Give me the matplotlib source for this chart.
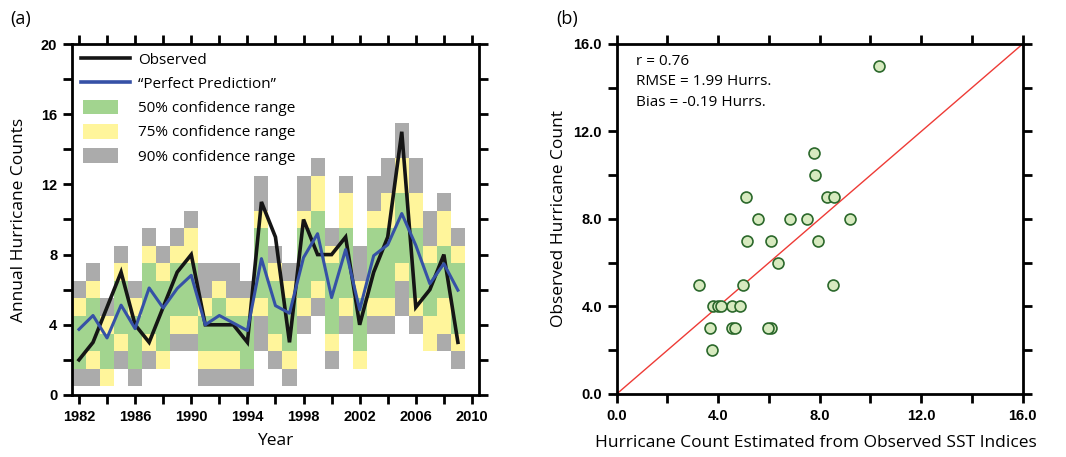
import numpy as np
import matplotlib.pyplot as plt
from matplotlib.lines import Line2D
from matplotlib.patches import Patch, Rectangle
from matplotlib.legend_handler import HandlerPatch

# Datos: conteos anuales de huracanes
years = np.arange(1982, 2010)
observed = np.array([2, 3, 5, 7, 4, 3, 5, 7, 8, 4, 4, 4, 3, 11,
                     9, 3, 10, 8, 8, 9, 4, 7, 9, 15, 5, 6, 8, 3])
perfect = np.array([3.74, 4.53, 3.25, 5.12, 3.78, 6.10, 4.96, 6.07, 6.82, 4.00,
                    4.53, 4.10, 3.67, 7.77, 5.09, 4.66, 7.83, 9.19, 5.55, 8.29,
                    4.85, 7.94, 8.56, 10.34, 8.53, 6.34, 7.48, 5.97])

# Rangos de confianza (conteos enteros, limite inferior / superior)
lo90 = np.array([1, 1, 1, 2, 1, 2, 2, 3, 3, 1, 1, 1, 1, 3,
                 2, 1, 4, 5, 2, 4, 2, 4, 4, 5, 4, 3, 3, 2])
hi90 = np.array([6, 7, 5, 8, 6, 9, 8, 9, 10, 7, 7, 7, 6, 12,
                 8, 7, 12, 13, 9, 12, 8, 12, 13, 15, 13, 10, 11, 9])
lo75 = np.array([2, 2, 1, 3, 2, 3, 2, 4, 4, 2, 2, 2, 2, 5,
                 3, 2, 5, 6, 3, 5, 2, 5, 5, 7, 5, 3, 4, 3])
hi75 = np.array([5, 6, 4, 7, 5, 8, 7, 8, 9, 5, 6, 5, 5, 10,
                 7, 6, 10, 12, 8, 11, 6, 10, 11, 13, 11, 8, 10, 8])
lo50 = np.array([2, 3, 2, 4, 2, 4, 3, 5, 5, 3, 3, 3, 2, 6,
                 4, 3, 6, 7, 4, 6, 3, 6, 6, 8, 6, 5, 6, 4])
hi50 = np.array([4, 5, 3, 6, 4, 7, 6, 7, 7, 4, 5, 4, 4, 9,
                 6, 5, 9, 10, 7, 9, 5, 9, 9, 11, 9, 7, 8, 7])

stats_txt = "r = 0.76\nRMSE = 1.99 Hurrs.\nBias = -0.19 Hurrs."

c_grey = '#ababab'
c_yellow = '#fff59b'
c_green = '#a2d48f'
c_blue = '#3651a6'
c_black = '#151515'

plt.rcParams['font.family'] = ['Open Sans', 'DejaVu Sans']
tick_font = dict(family='Liberation Sans', weight='bold', size=10.5)

fig = plt.figure(figsize=(10.66, 4.57), dpi=100)
ax1 = fig.add_axes([0.0675, 0.1357, 0.3818, 0.768])
ax2 = fig.add_axes([0.5785, 0.1379, 0.3809, 0.766])


def estilo(ax):
    for s in ax.spines.values():
        s.set_linewidth(2.0)
    ax.tick_params(which='both', direction='out', length=6.5, width=2.0,
                   top=True, right=True, pad=4)


# cajas de la leyenda un poco mas estrechas que las lineas
def caja(legend, orig_handle, xdescent, ydescent, width, height, fontsize):
    return Rectangle((-xdescent + 0.04 * width, -ydescent), 0.72 * width, height)


# ---- Panel (a) ----
ax1.bar(years, hi90 - lo90 + 1, bottom=lo90 - 0.5, width=1.0, color=c_grey, linewidth=0)
ax1.bar(years, hi75 - lo75 + 1, bottom=lo75 - 0.5, width=1.0, color=c_yellow, linewidth=0)
ax1.bar(years, hi50 - lo50 + 1, bottom=lo50 - 0.5, width=1.0, color=c_green, linewidth=0)
ax1.plot(years, observed, color=c_black, lw=2.6, solid_joinstyle='miter')
ax1.plot(years, perfect, color=c_blue, lw=2.2)

ax1.set_xlim(1981.5, 2010.5)
ax1.set_ylim(0, 20)
ax1.set_xticks(range(1982, 2011, 2))
ax1.set_xticklabels([str(y) if (y - 1982) % 4 == 0 else '' for y in range(1982, 2011, 2)], **tick_font)
ax1.set_yticks(range(0, 21, 2))
ax1.set_yticklabels([str(v) if v % 4 == 0 else '' for v in range(0, 21, 2)], **tick_font)
estilo(ax1)
ax1.set_xlabel('Year', fontsize=12.5)
ax1.set_ylabel('Annual Hurricane Counts', fontsize=12.5)
ax1.xaxis.set_label_coords(0.5, -0.108)
ax1.yaxis.set_label_coords(-0.11, 0.5)

handles = [Line2D([], [], color=c_black, lw=2.6),
           Line2D([], [], color=c_blue, lw=2.6),
           Patch(facecolor=c_green, linewidth=0),
           Patch(facecolor=c_yellow, linewidth=0),
           Patch(facecolor=c_grey, linewidth=0)]
labels = ['Observed', '\u201cPerfect Prediction\u201d', '50% confidence range',
          '75% confidence range', '90% confidence range']
ax1.legend(handles, labels, loc='upper left', bbox_to_anchor=(0.0, 1.005), frameon=False,
           fontsize=11, handlelength=3.2, handleheight=1.1, labelspacing=0.5,
           handletextpad=0.5, borderaxespad=0.2,
           handler_map={Patch: HandlerPatch(patch_func=caja)})

# ---- Panel (b) ----
ax2.axline((0, 0), slope=1, color='#ee3b36', lw=1.0, zorder=1)
ax2.scatter(perfect, observed, s=62, facecolor='#d7eabf', edgecolor='#2b682b',
            linewidth=1.2, zorder=3)
ax2.set_xlim(0, 16)
ax2.set_ylim(0, 16)
ax2.set_xticks(range(0, 17, 2))
ax2.set_xticklabels(['%.1f' % v if v % 4 == 0 else '' for v in range(0, 17, 2)], **tick_font)
ax2.set_yticks(range(0, 17, 2))
ax2.set_yticklabels(['%.1f' % v if v % 4 == 0 else '' for v in range(0, 17, 2)], **tick_font)
estilo(ax2)
ax2.set_xlabel('Hurricane Count Estimated from Observed SST Indices', fontsize=12.5)
ax2.set_ylabel('Observed Hurricane Count', fontsize=12.5)
ax2.xaxis.set_label_coords(0.49, -0.117)
ax2.yaxis.set_label_coords(-0.122, 0.5)
ax2.text(0.047, 0.972, stats_txt, transform=ax2.transAxes, va='top', ha='left',
         fontsize=11, linespacing=1.5)

fig.text(0.010, 0.958, '(a)', fontsize=13, va='center')
fig.text(0.522, 0.958, '(b)', fontsize=13, va='center')

fig.savefig('out.png', dpi=100)
